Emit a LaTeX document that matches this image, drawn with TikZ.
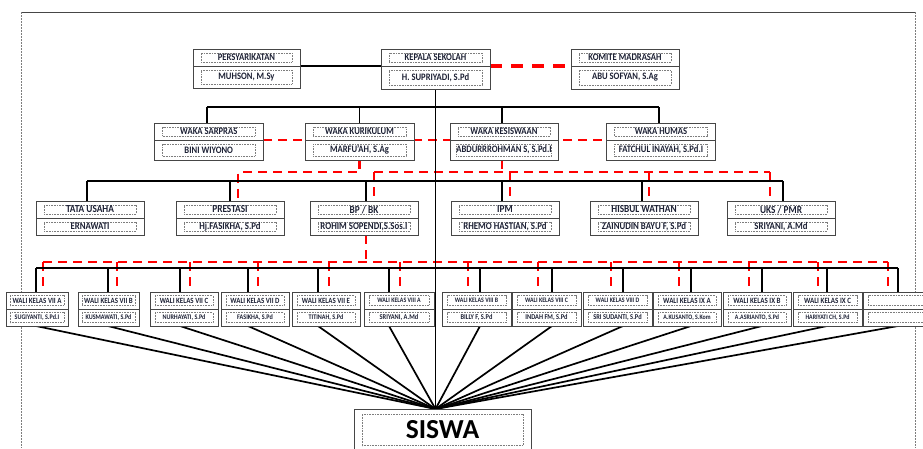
\documentclass[tikz,border=0pt]{standalone}
\usepackage{fontspec}
\setmainfont{Carlito}
\pgfdeclarelayer{redl}
\pgfdeclarelayer{blkl}
\pgfsetlayers{redl,blkl,main}
\definecolor{txt}{RGB}{28,32,52}
\definecolor{bord}{RGB}{70,70,70}
\definecolor{dotc}{RGB}{125,125,125}
\tikzset{
 obx/.style={draw=bord, line width=0.9pt, fill=white, inner sep=0pt, outer sep=0pt},
 obl/.style={draw=bord, line width=0.9pt},
 ibx/.style={draw=dotc, line width=0.5pt, dash pattern=on 0.8pt off 0.8pt, inner sep=0pt, outer sep=0pt, text=txt, font=\bfseries},
 blk/.style={line width=1.8pt, black},
 fanln/.style={line width=1.7pt, black},
 redln/.style={line width=2.5pt, red, dash pattern=on 9pt off 6pt},
 redthick/.style={line width=3.6pt, red, dash pattern=on 12pt off 9pt},
 framesolid/.style={draw=bord, line width=0.8pt},
 framedot/.style={draw=dotc, line width=0.5pt, dash pattern=on 1.5pt off 1.5pt}
}
\def\vin{8}
\def\ttlfont{\fontsize{8.6}{10}\selectfont}
\def\nmfont{\fontsize{8.6}{10}\selectfont}
\newcommand\obox[9]{%
  \node[obx, minimum width={(#4)-(#2)}, minimum height={(#5)-(#3)}] (#1) at ({((#2)+(#4))/2},{((#3)+(#5))/2}) {};
  \coordinate (#1-ml) at (#2,#6);
  \coordinate (#1-mr) at (#4,#6);
  \draw[obl] (#1-ml) -- (#1-mr);
  \node[ibx, minimum width={(#4)-(#2)-2*(#7)}, minimum height={(#6)-(#3)-\vin}] (#1-t) at ({((#2)+(#4))/2},{((#3)+(#6))/2}) {\scalebox{1}[1.15]{\ttlfont #8}};
  \node[ibx, minimum width={(#4)-(#2)-2*(#7)}, minimum height={(#5)-(#6)-\vin}] (#1-b) at ({((#2)+(#4))/2},{((#5)+(#6))/2}) {\scalebox{1}[1.15]{\nmfont #9}};
}
\begin{document}
\begin{tikzpicture}[x=1pt,y=-1pt]
\useasboundingbox (0,0) rectangle (923,448);
\clip (0,0) rectangle (923,448);
% ---------- row 1
\obox{pe}{193}{49}{300}{88}{66}{8}{PERSYARIKATAN}{MUHSON, M.Sy}
\obox{kp}{381}{49}{490}{89}{66}{8}{KEPALA SEKOLAH}{H. SUPRIYADI, S.Pd}
\obox{km}{571}{49}{679}{89}{66}{8}{KOMITE MADRASAH}{ABU SOFYAN, S.Ag}
% ---------- row 2
\obox{sa}{154.5}{123}{263}{160}{140}{8}{WAKA SARPRAS}{BINI WIYONO}
\obox{ku}{305}{123}{414}{160}{140}{8}{WAKA KURIKULUM}{MARFU'AH, S.Ag}
\obox{ke}{450}{123}{558}{160}{140}{8}{WAKA KESISWAAN}{ABDURRROHMAN S, S.Pd.I}
\obox{hu}{606.5}{123}{715.5}{160}{140}{8}{WAKA HUMAS}{FATCHUL INAYAH, S.Pd.I}
% ---------- row 3
\def\ttlfont{\fontsize{9.3}{10}\selectfont}
\def\nmfont{\fontsize{8.8}{10}\selectfont}
\obox{ta}{36}{201}{144}{235}{218}{8}{TATA USAHA}{ERNAWATI}
\obox{pr}{176}{201}{284}{235}{218}{8}{PRESTASI}{Hj.FASIKHA, S.Pd}
\obox{bp}{310}{201}{418}{235}{218}{8}{BP / BK}{ROHIM SOPENDI,S.Sos.I}
\obox{ip}{451}{201}{559}{235}{218}{8}{IPM}{RHEMO HASTIAN, S.Pd}
\obox{hw}{590}{201}{698}{235}{218}{8}{HISBUL WATHAN}{ZAINUDIN BAYU F, S.Pd}
\obox{uk}{727}{201}{835}{235}{218}{8}{UKS / PMR}{SRIYANI, A.Md}
% ---------- row 4
\def\vin{7}
\def\ttlfont{\fontsize{6.9}{8}\selectfont}
\def\nmfont{\fontsize{6.1}{7}\selectfont}
\obox{w1}{6}{292}{68}{326}{309}{4}{WALI KELAS VII A}{SUGIYANTI, S.Pd.I}
\obox{w2}{78}{292}{139}{326}{309}{4}{WALI KELAS VII B}{KUSMAWATI, S.Pd}
\obox{w3}{150}{292}{218}{326}{309}{5}{WALI KELAS VII C}{NURHAYATI, S.Pd}
\obox{w4}{221}{292}{289}{326}{309}{5}{WALI KELAS VII D}{FASIKHA, S.Pd}
\obox{w5}{292}{292}{360}{326}{309}{5}{WALI KELAS VII E}{TITINAH, S.Pd}
\def\ttlfont{\fontsize{5.9}{7}\selectfont}
\def\nmfont{\fontsize{6.4}{7}\selectfont}
\obox{w6}{364}{292}{434}{326}{309}{5}{WALI KELAS VIII A}{SRIYANI, A.Md}
\obox{w7}{442}{292}{511}{326}{309}{5}{WALI KELAS VIII B}{BILLY F, S.Pd}
\obox{w8}{512}{292}{581}{326}{309}{5}{WALI KELAS VIII C}{INDAH FM, S.Pd}
\obox{w9}{583}{292}{652}{326}{309}{5}{WALI KELAS VIII D}{SRI SUDANTI, S.Pd}
\def\ttlfont{\fontsize{7}{8}\selectfont}
\def\nmfont{\fontsize{5.9}{7}\selectfont}
\obox{w10}{653}{292}{721}{326}{309}{5}{WALI KELAS IX A}{A.KUSANTO, S.Kom}
\obox{w11}{723}{292}{791}{326}{309}{5}{WALI KELAS IX B}{A.ASRIANTO, S.Pd}
\obox{w12}{793}{292}{862}{326}{309}{5}{WALI KELAS IX C}{HARIYATI CH, S.Pd}
\obox{w13}{863}{292}{932}{326}{309}{5}{}{}
% ---------- SISWA
\node[obx, minimum width=177, minimum height=52, anchor=north] (si) at (442.5,409) {};
\node[ibx, text=black, minimum width=161, minimum height=31, font={\bfseries\fontsize{27.5}{30}\selectfont}] (si-t) at (442.5,430) {SISWA};
% ---------- helper coordinates
\coordinate (bus1) at (0,107);
\coordinate (bus2) at (0,181);
\coordinate (bus3) at (0,268);
\coordinate (rb2) at (0,172);
\coordinate (rb3) at (0,262);
\coordinate (conv) at (kp.south |- si.north);
% ---------- red dashed lines + page frame
\begin{pgfonlayer}{redl}
\draw[framesolid] (21,12) -- (915,12);
\draw[framedot] (21,12) -- (21,448);
\draw[framedot] (915,12) -- (915,448);
\draw[redthick] (kp-mr) -- (km-ml);
\draw[redln] (sa-mr) -- (hu-ml);
\draw[redln] (ku.south) -- (ku.south |- rb2) -- ([xshift=8]pr.north |- rb2) -- ([xshift=8]pr.north);
\draw[redln] ([xshift=-2]ke.south) -- ([xshift=-2]ke.south |- rb2);
\draw[redln] ([xshift=10]bp.north |- rb2) -- ([xshift=-11]uk.north |- rb2);
\foreach \n/\o in {bp/10, ip/5, hw/5, uk/-11}
  \draw[redln] ([xshift=\o]\n.north |- rb2) -- ([xshift=\o]\n.north);
\draw[redln] ([xshift=2]bp.south) -- ([xshift=2]bp.south |- rb3);
\draw[redln] ([xshift=6]w1.north |- rb3) -- ([xshift=-9.5]w13.north |- rb3);
\foreach \n/\o in {w1/6, w2/8.5, w3/6, w4/3, w5/3, w6/1, w7/-8.5, w8/-8.5, w9/-6.5, w10/-8, w11/-8, w12/-9.5, w13/-9.5}
  \draw[redln] ([xshift=\o]\n.north |- rb3) -- ([xshift=\o]\n.north);
\end{pgfonlayer}
% ---------- black connectors
\begin{pgfonlayer}{blkl}
\draw[blk, line width=2.3pt] (pe-mr) -- (kp-ml);
\draw[blk] (kp.south) -- (conv);
\draw[blk] ([xshift=-2]sa.north |- bus1) -- ([xshift=-2]hu.north |- bus1);
\foreach \n/\o in {sa/-2, ku/0, ke/-2, hu/-2}
  \draw[blk] ([xshift=\o]\n.north |- bus1) -- ([xshift=\o]\n.north);
\draw[blk] ([xshift=-3]ta.north |- bus2) -- ([xshift=2]uk.north |- bus2);
\foreach \n/\o in {ta/-3, pr/0, bp/2, ip/-3, hw/-2, uk/2}
  \draw[blk] ([xshift=\o]\n.north |- bus2) -- ([xshift=\o]\n.north);
\draw[blk] ([xshift=-1]w1.north |- bus3) -- ([xshift=0.5]w13.north |- bus3);
\foreach \n/\o in {w1/-1, w2/-0.5, w3/-4, w4/-7, w5/-8, w6/-10, w7/3.5, w8/5.5, w9/5.5, w10/4, w11/5, w12/-0.5, w13/0.5}{
  \draw[blk] ([xshift=\o]\n.north |- bus3) -- ([xshift=\o]\n.north);
  \draw[fanln] ([xshift=\o]\n.south) -- (conv);
}
\end{pgfonlayer}
\end{tikzpicture}
\end{document}
